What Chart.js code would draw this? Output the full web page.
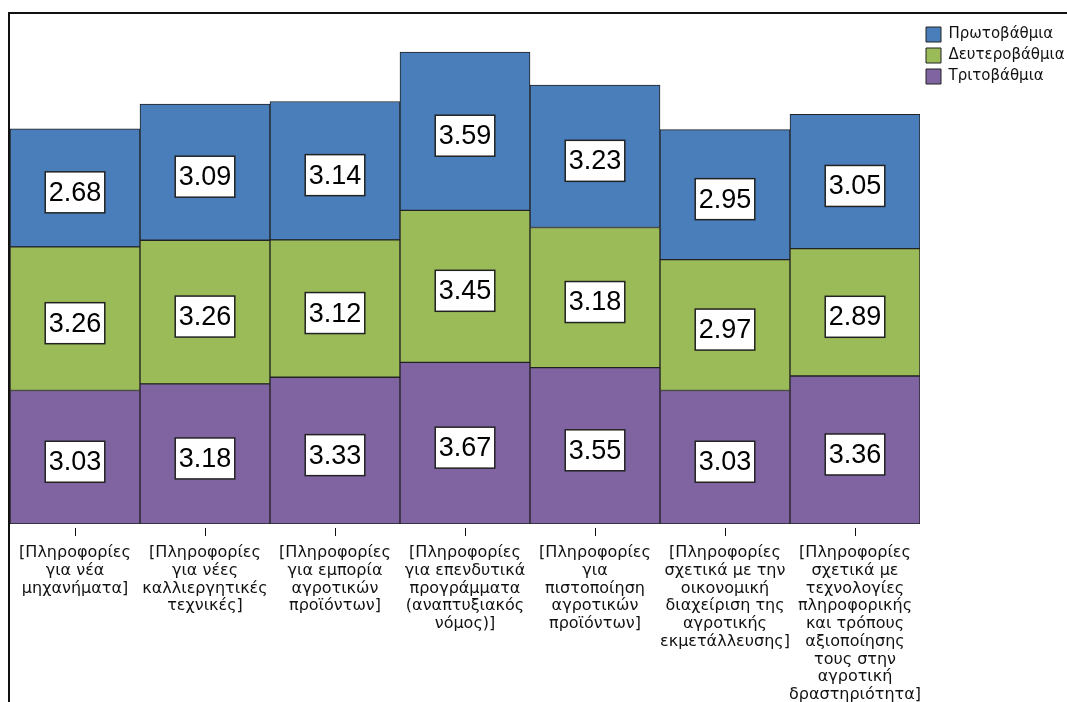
<!DOCTYPE html>
<html>
<head>
<meta charset="utf-8">
<script src="https://cdn.jsdelivr.net/npm/chart.js@4"></script>
<style>
  html, body { margin: 0; padding: 0; background: #fff; overflow: hidden; }
  #wrap { position: relative; width: 1067px; height: 702px; }
  /* outer SPSS-style frame: only left and top edges show */
  #frame { position: absolute; left: 8px; top: 12px; right: -10px; bottom: -10px;
           border-left: 2px solid #111; border-top: 2px solid #111; }
  #chart { position: absolute; left: 0; top: 0; }
</style>
</head>
<body>
<div id="wrap">
  <div id="frame"></div>
  <canvas id="chart" width="1067" height="702"></canvas>
</div>
<script>
// ---- data ----
const categories = [
    ['[Πληροφορίες', 'για νέα', 'μηχανήματα]'],
    ['[Πληροφορίες', 'για νέες', 'καλλιεργητικές', 'τεχνικές]'],
    ['[Πληροφορίες', 'για εμπορία', 'αγροτικών', 'προϊόντων]'],
    ['[Πληροφορίες', 'για επενδυτικά', 'προγράμματα', '(αναπτυξιακός', 'νόμος)]'],
    ['[Πληροφορίες', 'για', 'πιστοποίηση', 'αγροτικών', 'προϊόντων]'],
    ['[Πληροφορίες', 'σχετικά με την', 'οικονομική', 'διαχείριση της', 'αγροτικής', 'εκμετάλλευσης]'],
    ['[Πληροφορίες', 'σχετικά με', 'τεχνολογίες', 'πληροφορικής', 'και τρόπους', 'αξιοποίησης', 'τους στην', 'αγροτική', 'δραστηριότητα]']
];
const primary   = [2.68, 3.09, 3.14, 3.59, 3.23, 2.95, 3.05]; // Πρωτοβάθμια (top)
const secondary = [3.26, 3.26, 3.12, 3.45, 3.18, 2.97, 2.89]; // Δευτεροβάθμια (middle)
const tertiary  = [3.03, 3.18, 3.33, 3.67, 3.55, 3.03, 3.36]; // Τριτοβάθμια (bottom)

const colors = {
    blue: '#4A7EBB',
    green: '#9BBB59',
    purple: '#8064A2',
    edge: '#222222'
};

const FONT = '"Liberation Sans", Arial, sans-serif';
const GREEK_FONT = '"DejaVu Sans", sans-serif';

// white boxed value labels in the middle of each segment
const valueBoxes = {
    id: 'valueBoxes',
    afterDatasetsDraw(chart) {
        const ctx = chart.ctx;
        ctx.save();
        ctx.font = '27px ' + FONT;
        ctx.textAlign = 'center';
        ctx.textBaseline = 'middle';
        chart.data.datasets.forEach((ds, i) => {
            chart.getDatasetMeta(i).data.forEach((bar, j) => {
                const p = bar.getProps(['x', 'y', 'base'], true);
                const cy = (p.y + p.base) / 2 + 4.5;
                const txt = ds.data[j].toFixed(2);
                const w = ctx.measureText(txt).width + 7;
                const h = 41;
                ctx.fillStyle = '#fff';
                ctx.fillRect(p.x - w / 2, cy - h / 2, w, h);
                ctx.strokeStyle = '#222';
                ctx.lineWidth = 1.5;
                ctx.strokeRect(p.x - w / 2, cy - h / 2, w, h);
                ctx.fillStyle = '#000';
                ctx.fillText(txt, p.x, cy + 1);
            });
        });
        ctx.restore();
    }
};

const seriesStyle = { borderColor: colors.edge, borderWidth: 1, borderSkipped: false,
                      barPercentage: 1, categoryPercentage: 1 };

new Chart(document.getElementById('chart'), {
    type: 'bar',
    data: {
        labels: categories,
        // stacking goes bottom-up, so the bottom series comes first
        datasets: [
            { label: 'Τριτοβάθμια', data: tertiary, backgroundColor: colors.purple, ...seriesStyle },
            { label: 'Δευτεροβάθμια', data: secondary, backgroundColor: colors.green, ...seriesStyle },
            { label: 'Πρωτοβάθμια', data: primary, backgroundColor: colors.blue, ...seriesStyle }
        ]
    },
    options: {
        responsive: false,
        animation: false,
        layout: { padding: { left: 10, top: 16, right: 0, bottom: 0 } },
        scales: {
            x: {
                stacked: true,
                border: { display: false },
                grid: {
                    offset: false,
                    drawOnChartArea: false,
                    drawTicks: true,
                    tickLength: 12,
                    tickColor: '#111',
                    tickWidth: 1,
                    tickBorderDash: [8, 4],
                    tickBorderDashOffset: 8
                },
                ticks: {
                    maxRotation: 0,
                    autoSkip: false,
                    padding: 8,
                    color: '#111',
                    font: { family: GREEK_FONT, size: 16, lineHeight: 1.11 }
                },
                afterFit: (scale) => { scale.height = 178; }
            },
            y: {
                stacked: true,
                display: false,
                min: 0,
                max: 11.53
            }
        },
        plugins: {
            tooltip: { enabled: false },
            legend: {
                position: 'right',
                align: 'start',
                reverse: true,
                maxWidth: 147,
                // empty title only used as a spacer to push the items down a bit
                title: { display: true, text: '', font: { size: 1, lineHeight: 1 }, padding: { top: 0, bottom: 4 } },
                labels: {
                    boxWidth: 15,
                    boxHeight: 15,
                    padding: 6,
                    color: '#111',
                    font: { family: GREEK_FONT, size: 15 }
                }
            }
        }
    },
    plugins: [valueBoxes]
});
</script>
</body>
</html>
